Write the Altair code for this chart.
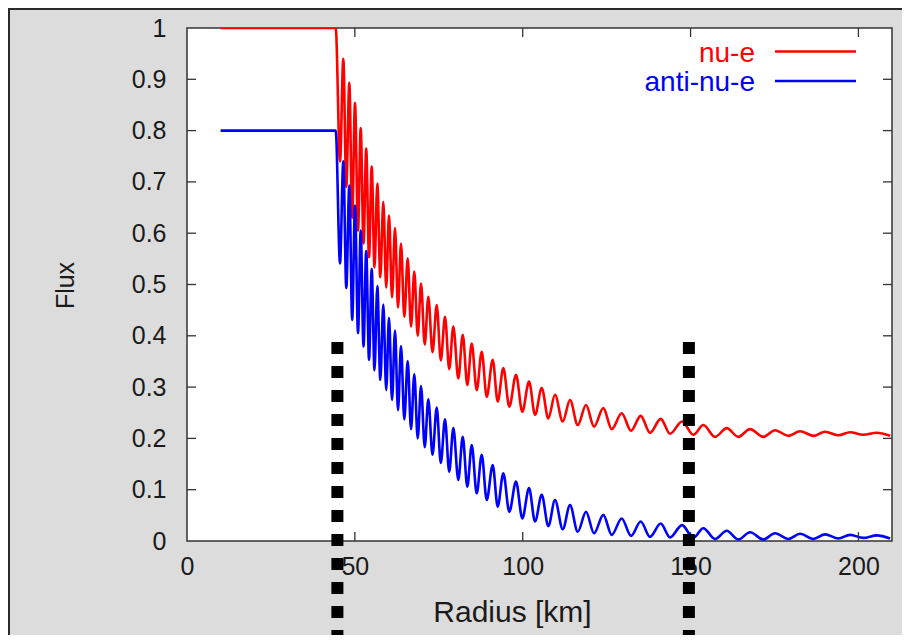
import altair as alt
import pandas as pd

# ---------------- data ----------------
SERIES = ["nu-e", "anti-nu-e"]
COLORS = ["#ff0000", "#0000ff"]

# radius [km]: flat part, then alternating troughs / peaks of the oscillation
RADIUS = [10.0, 44.3,
          45.58, 46.56, 47.45, 48.35, 49.21, 50.04, 50.94, 51.74, 52.58, 53.38,
          54.22, 55.02, 55.85, 56.69, 57.58, 58.48, 59.34, 60.17, 61.07, 61.96,
          62.85, 63.75, 64.73, 65.74, 66.73, 67.71, 68.72, 69.71, 70.81, 71.88,
          73.13, 74.38, 75.60, 76.85, 78.11, 79.33, 80.82, 82.13, 83.50, 84.81,
          86.30, 87.79, 89.28, 91.06, 92.55, 94.22, 96.01, 98.00, 99.88, 101.88,
          103.67, 105.66, 107.63, 109.62, 111.92, 114.09, 116.39, 118.86, 121.24, 124.01,
          126.51, 129.49, 132.26, 135.15, 137.92, 141.11, 143.88, 147.46, 150.82, 153.80,
          157.29, 160.77, 164.23, 167.71, 171.68, 175.16, 179.12, 182.61, 186.57, 190.05,
          194.02, 197.50, 201.46, 205.45, 209.42]

NU_E = [1.0, 1.0,
        0.740, 0.940, 0.690, 0.893, 0.630, 0.854, 0.605, 0.805, 0.580, 0.765,
        0.553, 0.730, 0.533, 0.697, 0.514, 0.661, 0.494, 0.635, 0.475, 0.610,
        0.455, 0.580, 0.437, 0.551, 0.418, 0.525, 0.400, 0.502, 0.383, 0.476,
        0.368, 0.460, 0.352, 0.437, 0.335, 0.418, 0.317, 0.402, 0.304, 0.385,
        0.294, 0.369, 0.281, 0.353, 0.272, 0.337, 0.262, 0.324, 0.252, 0.311,
        0.246, 0.298, 0.239, 0.285, 0.233, 0.275, 0.226, 0.265, 0.223, 0.259,
        0.218, 0.249, 0.215, 0.244, 0.211, 0.238, 0.209, 0.233, 0.207, 0.226,
        0.203, 0.220, 0.203, 0.218, 0.203, 0.216, 0.205, 0.214, 0.205, 0.213,
        0.206, 0.212, 0.207, 0.211, 0.205]

ANTI_NU_E = [0.8, 0.8,
             0.541, 0.740, 0.493, 0.693, 0.431, 0.654, 0.405, 0.605, 0.379, 0.565,
             0.353, 0.530, 0.333, 0.497, 0.314, 0.461, 0.294, 0.435, 0.275, 0.410,
             0.255, 0.380, 0.237, 0.351, 0.218, 0.325, 0.200, 0.302, 0.183, 0.276,
             0.168, 0.260, 0.152, 0.237, 0.135, 0.220, 0.119, 0.203, 0.106, 0.187,
             0.093, 0.168, 0.080, 0.148, 0.067, 0.132, 0.057, 0.116, 0.044, 0.103,
             0.038, 0.090, 0.029, 0.080, 0.023, 0.070, 0.018, 0.057, 0.015, 0.051,
             0.012, 0.044, 0.010, 0.038, 0.008, 0.034, 0.007, 0.031, 0.006, 0.025,
             0.004, 0.020, 0.003, 0.017, 0.003, 0.015, 0.004, 0.014, 0.004, 0.013,
             0.005, 0.012, 0.006, 0.011, 0.005]

X_TICKS = [0, 50, 100, 150, 200]
Y_TICKS = [0, 0.1, 0.2, 0.3, 0.4, 0.5, 0.6, 0.7, 0.8, 0.9, 1]

# dashed markers (radius) and their top / bottom flux values
MARKER_R = [44.8, 149.5]
MARKER_TOP = [0.388, 0.388]
MARKER_BOTTOM = [-0.2, -0.2]

# ---------------- chart ----------------
W, H = 705, 513
FONT = "Liberation Sans"
TXT = "#1a1a1a"
FRAME = "#333333"

xs = alt.Scale(domain=[0, 210], nice=False, zero=False)
ys = alt.Scale(domain=[0, 1], nice=False, zero=False)

n = len(RADIUS)
df = pd.DataFrame({
    "r": RADIUS + RADIUS,
    "flux": NU_E + ANTI_NU_E,
    "series": [SERIES[0]] * n + [SERIES[1]] * n,
})

x_axis = alt.Axis(values=X_TICKS, title="Radius [km]", grid=False, ticks=False, domain=False,
                  labelFontSize=25, labelFont=FONT, labelColor=TXT, labelPadding=13, labelFlush=False,
                  titleFontSize=30, titleFont=FONT, titleColor=TXT, titleFontWeight="normal",
                  titleX=325, titleY=71, titleBaseline="middle", titleAlign="center")
y_axis = alt.Axis(values=Y_TICKS, format="~g", title="Flux", grid=False, ticks=False, domain=False,
                  labelFontSize=25, labelFont=FONT, labelColor=TXT, labelPadding=21, labelFlush=False,
                  titleFontSize=25, titleFont=FONT, titleColor=TXT, titleFontWeight="normal",
                  titleX=-122, titleY=257, titleAngle=-90, titleBaseline="middle", titleAlign="center")


def X(field):
    return alt.X(field, scale=xs, axis=x_axis, title="Radius [km]")


def Y(field):
    return alt.Y(field, scale=ys, axis=y_axis, title="Flux")


layers = []
for i, s in enumerate(SERIES):
    d = df[df.series == s]
    layers.append(
        alt.Chart(d).mark_line(interpolate="monotone", strokeWidth=2.6, color=COLORS[i], clip=True)
        .encode(x=X("r:Q"), y=Y("flux:Q"))
    )

# inside ticks (gnuplot style, mirrored)
yt = pd.DataFrame({"r": Y_TICKS[1:-1]})
xt = pd.DataFrame({"r": X_TICKS[1:]})
tick_style = dict(color=FRAME, strokeWidth=1.3)
layers += [
    alt.Chart(yt).mark_rule(**tick_style).encode(y=Y("r:Q"), x=alt.value(0), x2=alt.value(9)),
    alt.Chart(yt).mark_rule(**tick_style).encode(y=Y("r:Q"), x=alt.value(W - 9), x2=alt.value(W)),
    alt.Chart(xt).mark_rule(**tick_style).encode(x=X("r:Q"), y=alt.value(H - 9), y2=alt.value(H)),
    alt.Chart(xt).mark_rule(**tick_style).encode(x=X("r:Q"), y=alt.value(0), y2=alt.value(9)),
]

# dashed vertical markers
mk = pd.DataFrame({"r": MARKER_R, "top": MARKER_TOP, "bottom": MARKER_BOTTOM})
layers.append(
    alt.Chart(mk).mark_rule(color="black", strokeWidth=12, strokeDash=[12, 12], strokeCap="butt", clip=False)
    .encode(x=X("r:Q"), y=Y("top:Q"), y2="bottom:Q")
)

# legend (label then sample line, top right)
leg_y = [23.5, 53]
for i, s in enumerate(SERIES):
    ld = pd.DataFrame({"label": [s]})
    layers.append(
        alt.Chart(ld).mark_text(align="right", baseline="middle", fontSize=28, font=FONT,
                                color=COLORS[i], dy=2)
        .encode(text="label:N", x=alt.value(568), y=alt.value(leg_y[i]))
    )
    layers.append(
        alt.Chart(ld).mark_rule(color=COLORS[i], strokeWidth=2.6)
        .encode(x=alt.value(588), x2=alt.value(669), y=alt.value(leg_y[i]))
    )

# panel edge lines (left / top of the gray panel)
edge = pd.DataFrame({"k": [0]})
layers.append(alt.Chart(edge).mark_rule(color="#2a2a2a", strokeWidth=2, clip=False)
              .encode(x=alt.value(-178), y=alt.value(-20), y2=alt.value(H + 94)))
layers.append(alt.Chart(edge).mark_rule(color="#2a2a2a", strokeWidth=2, clip=False)
              .encode(x=alt.value(-179), x2=alt.value(W + 10), y=alt.value(-19)))

chart = alt.layer(*layers).properties(
    width=W, height=H,
    background="#dcdcdc",
    padding={"left": 179, "top": 20, "right": 10, "bottom": 94},
    autosize=alt.AutoSizeParams(type="none"),
).configure_view(stroke=FRAME, strokeWidth=1.5, fill="white")

chart.save("out.html", embed_options={"renderer": "svg", "actions": False})
